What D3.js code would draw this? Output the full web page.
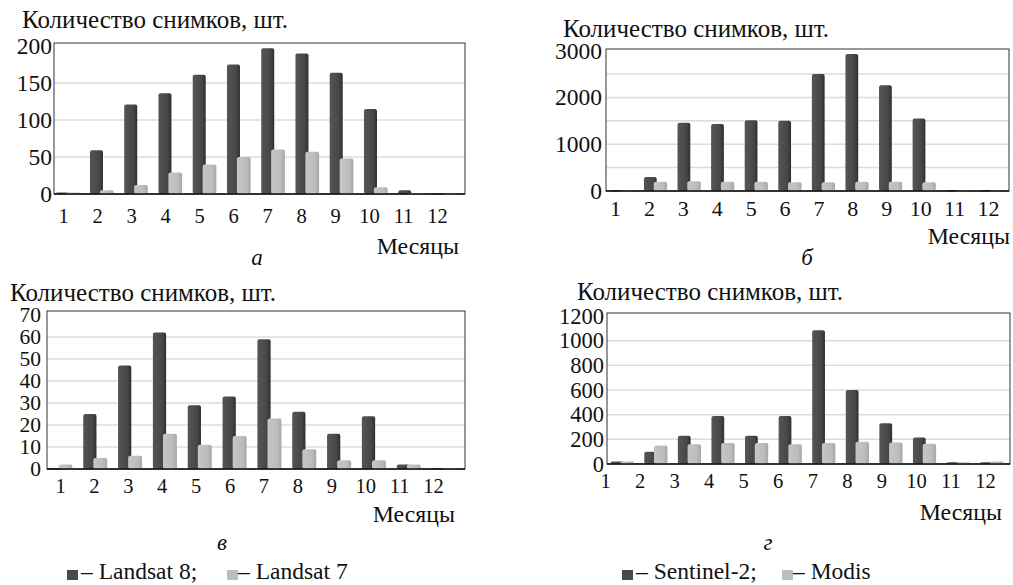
<!DOCTYPE html>
<html>
<head>
<meta charset="utf-8">
<script src="https://cdn.jsdelivr.net/npm/d3@7"></script>
</head>
<body style="margin:0;background:#fff">
<svg width="1013" height="585"></svg>
<script>
var months = ["1","2","3","4","5","6","7","8","9","10","11","12"];

// а: Landsat 8 / Landsat 7
var landsat8A = [2, 59, 121, 136, 161, 175, 197, 190, 164, 115, 5, 1];
var landsat7A = [2, 5, 12, 29, 40, 50, 60, 57, 48, 9, 1, 1];
// б: Sentinel-2 / Modis
var sentinel2B = [20, 300, 1460, 1430, 1510, 1500, 2500, 2930, 2260, 1550, 20, 20];
var modisB = [10, 200, 210, 200, 200, 185, 185, 200, 200, 185, 10, 10];
// в: Landsat 8 / Landsat 7
var landsat8V = [0.5, 25, 47, 62, 29, 33, 59, 26, 16, 24, 2, 0.5];
var landsat7V = [2, 5, 6, 16, 11, 15, 23, 9, 4, 4, 2, 0.5];
// г: Sentinel-2 / Modis
var sentinel2G = [20, 100, 230, 390, 230, 390, 1085, 600, 330, 215, 15, 15];
var modisG = [20, 150, 160, 170, 170, 160, 170, 180, 175, 165, 15, 20];

var yTicksA = [0, 50, 100, 150, 200],          gridA = [50, 100, 150];
var yTicksB = [0, 1000, 2000, 3000],           gridB = [500, 1000, 1500, 2000, 2500];
var yTicksV = [0, 10, 20, 30, 40, 50, 60, 70], gridV = [10, 20, 30, 40, 50, 60];
var yTicksG = [0, 200, 400, 600, 800, 1000, 1200], gridG = [200, 400, 600, 800, 1000];

var yTitle = "Количество снимков, шт.";
var xTitle = "Месяцы";
var legendLandsat = ["– Landsat 8;", "– Landsat 7"];
var legendSentinel = ["– Sentinel-2;", "– Modis"];

var FONT = "'Liberation Serif', 'Times New Roman', serif";

var svg = d3.select("svg");
var defs = svg.append("defs");

function grad(id, c1, c2, c3) {
    var g = defs.append("linearGradient").attr("id", id)
        .attr("x1", 0).attr("x2", 1).attr("y1", 0).attr("y2", 0);
    g.append("stop").attr("offset", "0%").attr("stop-color", c1);
    g.append("stop").attr("offset", "70%").attr("stop-color", c2);
    g.append("stop").attr("offset", "100%").attr("stop-color", c3);
}
grad("gDark", "#555", "#474747", "#2f2f2f");
grad("gLight", "#c6c6c6", "#bcbcbc", "#a6a6a6");

function panel(p) {
    var g = svg.append("g");
    var x = d3.scaleBand().domain(months).range([p.left, p.right]);
    var y = d3.scaleLinear().domain([0, p.yMax]).range([p.bottom, p.yTop]);
    var bw = x.bandwidth();

    // grid
    g.selectAll(".grid").data(p.grid).enter().append("line")
        .attr("x1", p.left).attr("x2", p.right)
        .attr("y1", d => y(d)).attr("y2", d => y(d))
        .attr("stroke", "#dcdcdc").attr("stroke-width", 1.5);

    // frame
    g.append("rect")
        .attr("x", p.left).attr("y", p.frameTop)
        .attr("width", p.right - p.left).attr("height", p.bottom - p.frameTop)
        .attr("fill", "none").attr("stroke", "#333").attr("stroke-width", 1);

    var dw = bw * 0.38, lw = bw * 0.4;
    function bars(vals, cls, off, w, fill) {
        g.selectAll("." + cls).data(vals).enter().append("rect")
            .attr("class", cls)
            .attr("x", (d, i) => x(months[i]) + off)
            .attr("y", d => y(d))
            .attr("width", w)
            .attr("height", d => Math.max(1.5, p.bottom - y(d)))
            .attr("rx", 2)
            .attr("fill", fill);
    }
    bars(p.dark, "dk", bw * p.shift, dw, "url(#gDark)");
    bars(p.light, "lt", bw * p.shift + bw * 0.29, lw, "url(#gLight)");

    // bottom axis line
    g.append("line")
        .attr("x1", p.left).attr("x2", p.right)
        .attr("y1", p.bottom).attr("y2", p.bottom)
        .attr("stroke", "#111").attr("stroke-width", 1.5);

    // y labels
    var ya = g.append("g").attr("transform", "translate(" + p.yLabRight + ",0)")
        .call(d3.axisLeft(y).tickValues(p.yTicks).tickFormat(d3.format("d")).tickSize(0).tickPadding(0));
    ya.select(".domain").remove();
    ya.selectAll("text").style("font-size", p.yLabSize + "px");

    // x labels (point scale, as in the original they are not centred on bars)
    var xl = d3.scalePoint().domain(months).range(p.xLab);
    var xa = g.append("g").attr("transform", "translate(0," + (p.xLabY - 17) + ")")
        .call(d3.axisBottom(xl).tickSize(0).tickPadding(0));
    xa.select(".domain").remove();
    xa.selectAll("text").style("font-size", p.xLabSize + "px");

    g.append("text").attr("x", p.title[0]).attr("y", p.title[1])
        .style("font-size", "25px").text(yTitle);
    g.append("text").attr("x", p.mes[0]).attr("y", p.mes[1])
        .attr("text-anchor", "end").style("font-size", "23.8px").text(xTitle);
    g.append("text").attr("x", p.letter[0]).attr("y", p.letter[1])
        .attr("text-anchor", "middle").style("font-size", "23px")
        .style("font-style", "italic").text(p.letter[2]);

    if (p.legend) {
        var lg = p.legend;
        g.append("rect").attr("x", lg.x1).attr("y", 570).attr("width", 11).attr("height", 10).attr("fill", "#4a4a4a");
        g.append("text").attr("x", lg.x1 + 14).attr("y", 579).style("font-size", "23.5px").text(lg.names[0]);
        g.append("rect").attr("x", lg.x2).attr("y", 570).attr("width", 11).attr("height", 10).attr("fill", "#bdbdbd");
        g.append("text").attr("x", lg.x2 + 11).attr("y", 579).style("font-size", "23.5px").text(lg.names[1]);
    }
}

panel({
    dark: landsat8A, light: landsat7A, yTicks: yTicksA, grid: gridA, yMax: 200,
    left: 54, right: 465, frameTop: 43, yTop: 46, bottom: 194, shift: 0.05,
    yLabRight: 52, yLabSize: 23.5, xLab: [63, 437], xLabY: 225, xLabSize: 20.5,
    title: [22, 28], mes: [459, 254], letter: [257, 265, "а"]
});
panel({
    dark: sentinel2B, light: modisB, yTicks: yTicksB, grid: gridB, yMax: 3000,
    left: 606, right: 1009, frameTop: 49, yTop: 50.6, bottom: 191, shift: 0.13,
    yLabRight: 602, yLabSize: 23.5, xLab: [615, 988], xLabY: 217, xLabSize: 22,
    title: [563, 37], mes: [1010, 244], letter: [807, 265, "б"]
});
panel({
    dark: landsat8V, light: landsat7V, yTicks: yTicksV, grid: gridV, yMax: 70,
    left: 47, right: 465, frameTop: 311, yTop: 315, bottom: 469, shift: 0.04,
    yLabRight: 41, yLabSize: 21.5, xLab: [60, 433], xLabY: 495, xLabSize: 20.5,
    title: [10, 301], mes: [455, 522], letter: [222, 550, "в"],
    legend: { x1: 67, x2: 227, names: legendLandsat }
});
panel({
    dark: sentinel2G, light: modisG, yTicks: yTicksG, grid: gridG, yMax: 1200,
    left: 607, right: 1010, frameTop: 313, yTop: 316, bottom: 464, shift: 0.11,
    yLabRight: 604, yLabSize: 22.5, xLab: [605, 985], xLabY: 490, xLabSize: 20.5,
    title: [577, 300], mes: [1002, 520], letter: [768, 550, "г"],
    legend: { x1: 622, x2: 782, names: legendSentinel }
});

// one serif face for every text, set on the elements themselves
svg.selectAll("g").attr("font-family", null).attr("font-size", null);
svg.selectAll("text").style("font-family", FONT).style("fill", "#111");
</script>
</body>
</html>
